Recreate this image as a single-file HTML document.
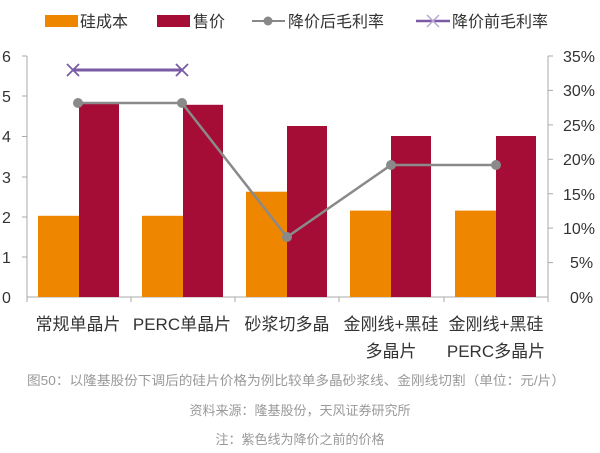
<!DOCTYPE html>
<html><head><meta charset="utf-8"><style>
body{margin:0;background:#fff;width:600px;height:448px;overflow:hidden;font-family:"Liberation Sans","Noto Sans CJK SC",sans-serif}
</style></head><body>
<svg width="600" height="448" xmlns="http://www.w3.org/2000/svg" font-family="Liberation Sans, Noto Sans CJK SC, sans-serif">
<rect x="45" y="15" width="33" height="12" fill="#ee8600"/>
<text x="80" y="27" font-size="16" fill="#333">硅成本</text>
<rect x="157" y="15" width="33" height="12" fill="#a50d36"/>
<text x="193" y="27" font-size="16" fill="#333">售价</text>
<line x1="252" y1="21" x2="285" y2="21" stroke="#888" stroke-width="2"/>
<circle cx="268" cy="21" r="4.5" fill="#888"/>
<text x="288" y="27" font-size="16" fill="#333">降价后毛利率</text>
<line x1="416" y1="21" x2="450" y2="21" stroke="#7b5aa6" stroke-width="2.5"/>
<path d="M427 15 L439 27 M439 15 L427 27" stroke="#b8a6d4" stroke-width="1.5"/>
<text x="452" y="27" font-size="16" fill="#333">降价前毛利率</text>
<g stroke="#aaa" stroke-width="1">
<line x1="27" y1="56" x2="27" y2="297"/>
<line x1="548" y1="56" x2="548" y2="297"/>
<line x1="27" y1="297" x2="548" y2="297"/>
<line x1="22" y1="56" x2="27" y2="56"/><line x1="22" y1="96" x2="27" y2="96"/><line x1="22" y1="136.5" x2="27" y2="136.5"/><line x1="22" y1="177" x2="27" y2="177"/><line x1="22" y1="217" x2="27" y2="217"/><line x1="22" y1="257" x2="27" y2="257"/>
<line x1="548" y1="56" x2="553" y2="56"/><line x1="548" y1="90.4" x2="553" y2="90.4"/><line x1="548" y1="124.9" x2="553" y2="124.9"/><line x1="548" y1="159.3" x2="553" y2="159.3"/><line x1="548" y1="193.7" x2="553" y2="193.7"/><line x1="548" y1="228.1" x2="553" y2="228.1"/><line x1="548" y1="262.6" x2="553" y2="262.6"/>
<line x1="131" y1="297" x2="131" y2="302"/><line x1="235" y1="297" x2="235" y2="302"/><line x1="339" y1="297" x2="339" y2="302"/><line x1="444" y1="297" x2="444" y2="302"/><line x1="548" y1="297" x2="548" y2="302"/><line x1="27" y1="297" x2="27" y2="302"/>
</g>
<g font-size="16" fill="#333">
<text x="2" y="62">6</text><text x="2" y="102">5</text><text x="2" y="142">4</text><text x="2" y="183">3</text><text x="2" y="223">2</text><text x="2" y="263">1</text><text x="2" y="303">0</text>
<text x="563" y="62">35%</text><text x="563" y="96">30%</text><text x="563" y="131">25%</text><text x="563" y="165">20%</text><text x="563" y="200">15%</text><text x="563" y="234">10%</text><text x="570" y="268">5%</text><text x="570" y="303">0%</text>
</g>
<g fill="#ee8600">
<rect x="38" y="215.8" width="41" height="81.2"/>
<rect x="142" y="215.8" width="41" height="81.2"/>
<rect x="246" y="191.7" width="41" height="105.3"/>
<rect x="350" y="210.6" width="41" height="86.4"/>
<rect x="455" y="210.6" width="41" height="86.4"/>
</g>
<g fill="#a50d36">
<rect x="79" y="104" width="40" height="193"/>
<rect x="183" y="104.8" width="40" height="192.2"/>
<rect x="287" y="126" width="40" height="171"/>
<rect x="391" y="136" width="40" height="161"/>
<rect x="496" y="136" width="40" height="161"/>
</g>
<polyline points="78,103 182,103 287,237 391,165 496,165" fill="none" stroke="#8a8a8a" stroke-width="2.5"/>
<g fill="#8a8a8a"><circle cx="78" cy="103" r="5"/><circle cx="182" cy="103" r="5"/><circle cx="287" cy="237" r="5"/><circle cx="391" cy="165" r="5"/><circle cx="496" cy="165" r="5"/></g>
<line x1="73" y1="70" x2="182" y2="70" stroke="#7b5aa6" stroke-width="3"/>
<path d="M67 64 L79 76 M79 64 L67 76 M176 64 L188 76 M188 64 L176 76" stroke="#7b5aa6" stroke-width="1.8"/>
<g font-size="17" fill="#333" text-anchor="middle">
<text x="78" y="330">常规单晶片</text>
<text x="182" y="330">PERC单晶片</text>
<text x="287" y="330">砂浆切多晶</text>
<text x="391" y="330">金刚线+黑硅</text>
<text x="391" y="357">多晶片</text>
<text x="496" y="330">金刚线+黑硅</text>
<text x="496" y="357">PERC多晶片</text>
</g>
<g font-size="13" fill="#999" text-anchor="middle">
<text x="296" y="385" textLength="538" lengthAdjust="spacingAndGlyphs">图50：以隆基股份下调后的硅片价格为例比较单多晶砂浆线、金刚线切割（单位：元/片）</text>
<text x="300" y="415">资料来源：隆基股份，天风证券研究所</text>
<text x="300" y="444">注：紫色线为降价之前的价格</text>
</g>
</svg>
</body></html>
